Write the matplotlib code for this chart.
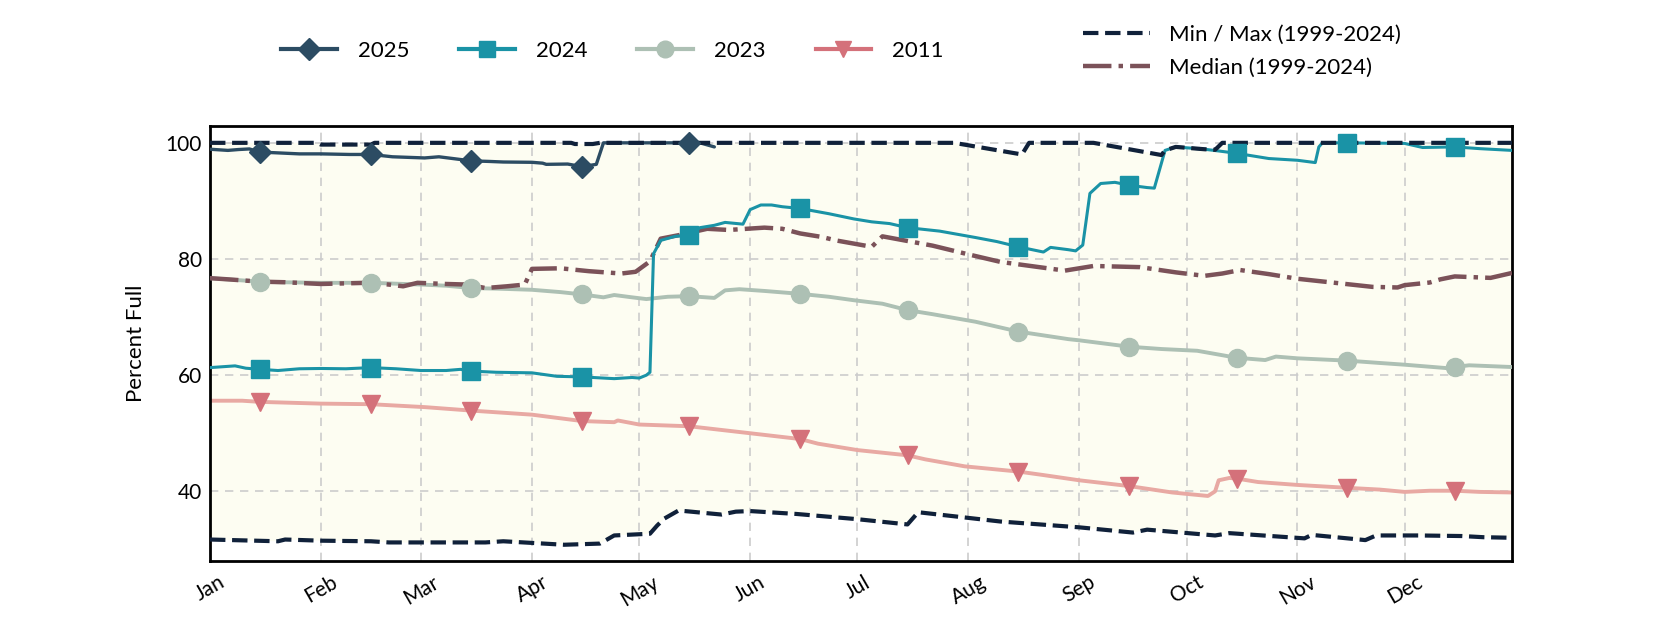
import numpy as np
import matplotlib
matplotlib.use("Agg")
import matplotlib.pyplot as plt
from matplotlib.lines import Line2D

plt.rcParams['font.family'] = ['Lato', 'DejaVu Sans']

# 数据：日序号（0 = 1月1日）与蓄水百分比
MONTH_STARTS = [0, 31, 59, 90, 120, 151, 181, 212, 243, 273, 304, 334]
MONTH_LABELS = ['Jan', 'Feb', 'Mar', 'Apr', 'May', 'Jun',
                'Jul', 'Aug', 'Sep', 'Oct', 'Nov', 'Dec']
MID_DAYS = [14, 45, 73, 104, 134, 165, 195, 226, 257, 287, 318, 348]

days_2025 = [0, 5, 8, 11, 14, 18, 25, 31, 39, 45, 51, 60, 64, 73, 78, 82, 90, 93, 94,
             100, 104, 107, 108, 110, 134, 137, 141]
vals_2025 = [98.9, 98.7, 98.85, 98.95, 98.4, 98.3, 98.1, 98.1, 98.0, 98.0, 97.6, 97.4,
             97.6, 96.9, 96.8, 96.7, 96.65, 96.5, 96.3, 96.35, 95.9, 96.2, 96.3, 100.0,
             100.0, 100.0, 99.3]

days_2024 = [0, 7, 10, 14, 19, 25, 31, 38, 45, 52, 59, 66, 70, 73, 80, 90, 97, 104, 110,
             113, 118, 120, 122, 123, 124, 126, 130, 134, 137, 141, 144, 149, 151, 154,
             157, 160, 165, 173, 180, 185, 190, 195, 204, 214, 220, 226, 233, 235, 240,
             242, 244, 246, 249, 253, 257, 262, 264, 267, 270, 278, 282, 287, 296, 304,
             309, 310, 311, 318, 334, 339, 348, 355, 364]
vals_2024 = [61.3, 61.6, 61.2, 61.0, 60.8, 61.1, 61.15, 61.1, 61.3, 61.1, 60.8, 60.8,
             61.0, 60.7, 60.5, 60.4, 59.8, 59.7, 59.5, 59.4, 59.6, 59.5, 60.0, 60.5,
             80.9, 83.2, 83.9, 84.1, 85.4, 85.8, 86.3, 86.0, 88.5, 89.3, 89.3, 89.0,
             88.7, 87.8, 86.9, 86.4, 86.1, 85.4, 84.8, 83.7, 83.0, 82.1, 81.2, 82.0,
             81.6, 81.4, 82.4, 91.3, 93.0, 93.2, 92.7, 92.3, 92.2, 98.7, 99.3, 98.9,
             98.6, 98.2, 97.3, 97.0, 96.6, 99.3, 100.0, 100.0, 99.9, 99.2, 99.3, 99.0,
             98.7]

days_2023 = [0, 7, 14, 20, 31, 45, 59, 66, 73, 80, 90, 98, 104, 110, 113, 118, 122,
             128, 134, 141, 144, 148, 155, 165, 173, 180, 188, 195, 202, 214, 226, 240,
             243, 257, 266, 276, 287, 295, 298, 304, 318, 327, 334, 346, 348, 352, 364]
vals_2023 = [76.7, 76.4, 76.1, 76.0, 75.9, 75.9, 75.6, 75.4, 75.0, 74.9, 74.7, 74.3,
             73.9, 73.4, 73.8, 73.4, 73.1, 73.5, 73.6, 73.3, 74.6, 74.8, 74.5, 74.0,
             73.5, 72.9, 72.3, 71.2, 70.5, 69.2, 67.5, 66.2, 66.0, 64.9, 64.5, 64.2,
             63.0, 62.6, 63.2, 62.9, 62.5, 62.1, 61.8, 61.2, 61.4, 61.7, 61.4]

days_2011 = [0, 9, 14, 31, 45, 60, 73, 90, 104, 113, 114, 120, 134, 151, 165, 170, 181,
             195, 200, 211, 226, 233, 243, 257, 269, 279, 281, 282, 285, 287, 293, 304,
             318, 327, 334, 341, 348, 355, 364]
vals_2011 = [55.6, 55.6, 55.4, 55.1, 55.0, 54.5, 53.9, 53.2, 52.1, 51.9, 52.2, 51.5,
             51.2, 50.0, 49.0, 48.2, 47.1, 46.2, 45.5, 44.3, 43.4, 42.8, 41.9, 40.9,
             39.8, 39.2, 40.0, 41.9, 42.3, 42.2, 41.6, 41.1, 40.6, 40.3, 39.9, 40.1,
             40.1, 39.9, 39.8]

days_med = [0, 5, 14, 21, 31, 44, 50, 54, 58, 66, 72, 77, 83, 88, 90, 98, 106, 115, 119,
            123, 126, 131, 139, 145, 155, 160, 165, 171, 175, 185, 188, 202, 212, 221,
            239, 247, 260, 270, 278, 283, 288, 296, 304, 316, 325, 332, 334, 341, 344,
            348, 358, 364]
vals_med = [76.7, 76.5, 76.1, 76.0, 75.7, 75.9, 75.6, 75.3, 75.9, 75.7, 75.6, 75.0,
            75.3, 75.6, 78.3, 78.4, 77.9, 77.5, 77.8, 79.6, 83.5, 84.1, 85.2, 85.0,
            85.4, 85.2, 84.4, 83.8, 83.2, 82.1, 83.9, 82.3, 80.8, 79.5, 78.0, 78.8,
            78.6, 77.7, 77.1, 77.5, 78.1, 77.4, 76.6, 75.8, 75.2, 75.1, 75.5, 75.95,
            76.5, 77.0, 76.75, 77.6]

days_min = [0, 19, 21, 31, 45, 50, 77, 82, 99, 109, 113, 123, 125, 127, 131, 143, 147,
            151, 164, 181, 195, 198, 221, 243, 258, 262, 281, 285, 306, 308, 323, 326,
            338, 350, 356, 364]
vals_min = [31.7, 31.4, 31.7, 31.5, 31.4, 31.2, 31.2, 31.4, 30.8, 31.0, 32.4, 32.7,
            34.1, 35.3, 36.7, 36.0, 36.5, 36.6, 36.1, 35.2, 34.3, 36.4, 34.8, 33.8,
            32.9, 33.4, 32.4, 32.8, 31.9, 32.5, 31.6, 32.4, 32.4, 32.3, 32.1, 32.0]

days_max = [0, 30, 31, 45, 46, 101, 102, 107, 109, 208, 227, 229, 247, 266, 267, 270,
            278, 281, 283, 364]
vals_max = [100.0, 100.0, 99.7, 99.7, 100.0, 100.0, 99.8, 99.8, 100.0, 100.0, 98.0,
            100.0, 100.0, 97.9, 98.7, 99.3, 98.9, 98.8, 100.0, 100.0]

# 颜色
c_2025 = '#2c4c63'
c_2024 = '#1a93a6'
c_2023 = '#adc0b4'
c_2011_line = '#e8a9a3'
c_2011_mk = '#d4717a'
c_med = '#7b5259'
c_env = '#10213a'
c_fill = '#fdfdf2'

fig = plt.figure(figsize=(16.8, 6.3), dpi=100)
ax = fig.add_axes([0.125, 0.1095, 0.775, 0.6905])

# 历史区间填充（网格线画在其上）
ax.fill(np.r_[days_max, days_min[::-1]], np.r_[vals_max, vals_min[::-1]],
        color=c_fill, lw=0, zorder=1)


def draw_year(d, v, line_color, mk_color, marker, ms, lw, z):
    d = np.asarray(d)
    v = np.asarray(v)
    ax.plot(d, v, color=line_color, lw=lw, zorder=z, solid_capstyle='round')
    sel = np.isin(d, MID_DAYS)
    ax.plot(d[sel], v[sel], ls='none', marker=marker, ms=ms,
            color=mk_color, mec=mk_color, zorder=5)


draw_year(days_2011, vals_2011, c_2011_line, c_2011_mk, 'v', 13, 2.8, 2.5)
draw_year(days_2023, vals_2023, c_2023, c_2023, 'o', 13, 2.8, 2.6)
ax.plot(days_med, vals_med, color=c_med, lw=3.2, ls='-.', zorder=3)
draw_year(days_2024, vals_2024, c_2024, c_2024, 's', 13, 2.2, 3.2)
draw_year(days_2025, vals_2025, c_2025, c_2025, 'D', 11, 2.4, 3.4)
ax.plot(days_max, vals_max, color=c_env, lw=3, ls='--', zorder=4)
ax.plot(days_min, vals_min, color=c_env, lw=3, ls='--', zorder=4)

ax.set_xlim(0, 364)
ax.set_ylim(28, 102.9)
ax.set_xticks(MONTH_STARTS)
ax.set_xticklabels(MONTH_LABELS, rotation=30, ha='center', fontsize=15)
ax.set_yticks([40, 60, 80, 100])
ax.tick_params(axis='y', labelsize=15, length=0, pad=6)
ax.tick_params(axis='x', length=0, pad=8)
ax.set_ylabel('Percent Full', fontsize=16, labelpad=14)
ax.grid(True, color='#cccccc', lw=1.2, ls=(0, (5, 4)))
ax.set_axisbelow('line')
for sp in ax.spines.values():
    sp.set_linewidth(2)
    sp.set_color('black')

# 图例
year_handles = [
    Line2D([], [], color=c_2025, lw=3, marker='D', ms=11),
    Line2D([], [], color=c_2024, lw=3, marker='s', ms=12),
    Line2D([], [], color=c_2023, lw=3, marker='o', ms=12),
    Line2D([], [], color=c_2011_mk, lw=3, marker='v', ms=12),
]
fig.legend(year_handles, ['2025', '2024', '2023', '2011'], loc='center left',
           bbox_to_anchor=(0.1607, 0.919), ncol=4, frameon=False, fontsize=16,
           borderpad=0, handlelength=2.5, handletextpad=0.95, columnspacing=2.25)

hist_handles = [
    Line2D([], [], color=c_env, lw=3, ls='--'),
    Line2D([], [], color=c_med, lw=3.2, ls='-.'),
]
fig.legend(hist_handles, ['Min / Max (1999-2024)', 'Median (1999-2024)'],
           loc='center left', bbox_to_anchor=(0.638, 0.919), frameon=False,
           fontsize=16, borderpad=0, handlelength=3, handletextpad=0.85,
           labelspacing=0.6)

fig.savefig('out.png', dpi=100)
